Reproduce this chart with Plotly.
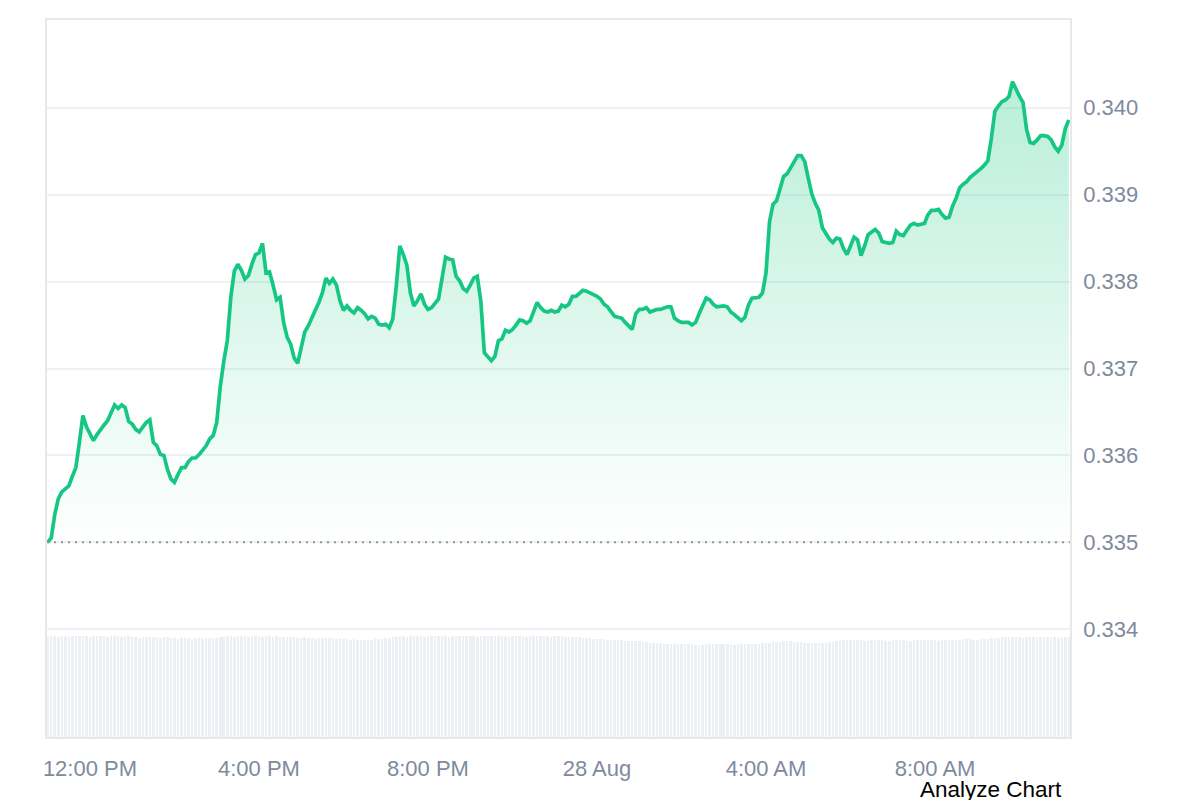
import pandas as pd
import plotly.graph_objects as go

# ---- data (5-minute intervals) ----
start_time = "2024-08-27 11:00"
n_points = 291

prices = [
    0.33500, 0.33505, 0.33532, 0.33550, 0.33558, 0.33561, 0.33565, 0.33576, 0.33586, 0.33615,
    0.33646, 0.33633, 0.33625, 0.33617, 0.33624, 0.33630, 0.33635, 0.33640, 0.33650, 0.33658,
    0.33654, 0.33658, 0.33655, 0.33639, 0.33636, 0.33630, 0.33627, 0.33632, 0.33638, 0.33641,
    0.33615, 0.33611, 0.33601, 0.33600, 0.33584, 0.33573, 0.33569, 0.33578, 0.33586, 0.33586,
    0.33593, 0.33597, 0.33597, 0.33601, 0.33606, 0.33611, 0.33619, 0.33623, 0.33638, 0.33679,
    0.33708, 0.33732, 0.33782, 0.33812, 0.33820, 0.33813, 0.33803, 0.33807, 0.33820, 0.33831,
    0.33833, 0.33844, 0.33810, 0.33811, 0.33796, 0.33779, 0.33782, 0.33753, 0.33736, 0.33728,
    0.33712, 0.33706, 0.33724, 0.33742, 0.33749, 0.33759, 0.33767, 0.33776, 0.33787, 0.33804,
    0.33798, 0.33803, 0.33796, 0.33778, 0.33767, 0.33772, 0.33767, 0.33764, 0.33770, 0.33767,
    0.33763, 0.33757, 0.33760, 0.33758, 0.33751, 0.33750, 0.33751, 0.33747, 0.33757, 0.33795,
    0.33841, 0.33831, 0.33819, 0.33787, 0.33772, 0.33778, 0.33786, 0.33774, 0.33768, 0.33770,
    0.33775, 0.33780, 0.33804, 0.33828, 0.33826, 0.33825, 0.33806, 0.33801, 0.33792, 0.33789,
    0.33796, 0.33804, 0.33806, 0.33778, 0.33718, 0.33714, 0.33709, 0.33714, 0.33732, 0.33734,
    0.33744, 0.33742, 0.33745, 0.33750, 0.33756, 0.33755, 0.33752, 0.33755, 0.33765, 0.33776,
    0.33770, 0.33766, 0.33765, 0.33767, 0.33765, 0.33766, 0.33773, 0.33771, 0.33774, 0.33783,
    0.33783, 0.33786, 0.33790, 0.33789, 0.33787, 0.33786, 0.33783, 0.33780, 0.33774, 0.33771,
    0.33766, 0.33760, 0.33759, 0.33758, 0.33753, 0.33749, 0.33745, 0.33763, 0.33768, 0.33768,
    0.33770, 0.33765, 0.33767, 0.33768, 0.33768, 0.33770, 0.33771, 0.33771, 0.33758, 0.33755,
    0.33753, 0.33753, 0.33753, 0.33750, 0.33753, 0.33763, 0.33773, 0.33781, 0.33779, 0.33774,
    0.33771, 0.33772, 0.33772, 0.33771, 0.33765, 0.33762, 0.33759, 0.33755, 0.33759, 0.33773,
    0.33781, 0.33782, 0.33782, 0.33787, 0.33810, 0.33869, 0.33889, 0.33893, 0.33907, 0.33921,
    0.33924, 0.33931, 0.33938, 0.33945, 0.33945, 0.33938, 0.33919, 0.33901, 0.33890, 0.33882,
    0.33862, 0.33856, 0.33849, 0.33845, 0.33850, 0.33849, 0.33838, 0.33831, 0.33840, 0.33851,
    0.33848, 0.33830, 0.33841, 0.33854, 0.33857, 0.33860, 0.33856, 0.33846, 0.33845, 0.33844,
    0.33845, 0.33858, 0.33854, 0.33853, 0.33859, 0.33865, 0.33867, 0.33865, 0.33866, 0.33867,
    0.33877, 0.33882, 0.33882, 0.33883, 0.33877, 0.33873, 0.33874, 0.33887, 0.33896, 0.33908,
    0.33912, 0.33915, 0.33920, 0.33923, 0.33927, 0.33930, 0.33934, 0.33939, 0.33965, 0.33996,
    0.34002, 0.34007, 0.34009, 0.34013, 0.34030, 0.34021, 0.34013, 0.34006, 0.33975, 0.33960,
    0.33959, 0.33963, 0.33968, 0.33968, 0.33967, 0.33963, 0.33955, 0.33950, 0.33957, 0.33976, 0.33986,
]

volumes = [
    100, 101, 101, 100, 101, 101, 100, 101, 101, 101,
    101, 101, 100, 101, 101, 101, 101, 100, 101, 101,
    101, 100, 101, 101, 100, 100, 99, 100, 100, 100,
    100, 100, 99, 100, 100, 99, 99, 98, 99, 99,
    99, 98, 99, 99, 98, 99, 99, 99, 99, 100,
    100, 101, 101, 100, 101, 101, 101, 100, 101, 101,
    101, 100, 101, 101, 100, 101, 100, 100, 100, 100,
    100, 99, 99, 100, 99, 99, 98, 99, 99, 99,
    99, 99, 98, 99, 98, 98, 97, 98, 97, 97,
    97, 97, 97, 98, 98, 98, 99, 99, 100, 100,
    101, 101, 100, 101, 101, 101, 101, 100, 101, 101,
    101, 101, 101, 101, 100, 101, 101, 101, 101, 101,
    101, 101, 100, 101, 101, 101, 101, 101, 101, 101,
    101, 100, 101, 101, 101, 101, 100, 101, 101, 101,
    101, 101, 101, 100, 101, 101, 101, 100, 100, 100,
    100, 100, 99, 99, 99, 98, 98, 98, 98, 97,
    97, 97, 97, 97, 96, 96, 96, 96, 96, 95,
    95, 94, 94, 94, 94, 93, 93, 93, 93, 93,
    93, 93, 93, 93, 92, 92, 92, 93, 93, 93,
    93, 93, 93, 93, 92, 92, 93, 93, 93, 93,
    93, 93, 93, 94, 94, 94, 95, 95, 95, 96,
    96, 96, 95, 95, 95, 94, 94, 94, 94, 94,
    94, 94, 95, 95, 96, 96, 97, 97, 97, 97,
    97, 97, 96, 96, 97, 97, 97, 97, 96, 96,
    97, 97, 97, 97, 96, 96, 97, 97, 97, 97,
    97, 97, 97, 96, 97, 97, 97, 97, 97, 97,
    98, 98, 98, 97, 97, 98, 98, 98, 99, 99,
    99, 100, 100, 100, 100, 100, 100, 99, 100, 100,
    100, 100, 100, 100, 100, 100, 100, 99, 100, 100, 100,
]

x_tick_values = ["2024-08-27 12:00", "2024-08-27 16:00", "2024-08-27 20:00",
                 "2024-08-28 00:00", "2024-08-28 04:00", "2024-08-28 08:00"]
x_tick_labels = ["12:00 PM", "4:00 PM", "8:00 PM", "28 Aug", "4:00 AM", "8:00 AM"]
y_tick_values = [0.334, 0.335, 0.336, 0.337, 0.338, 0.339, 0.340]
y_tick_labels = ["0.334", "0.335", "0.336", "0.337", "0.338", "0.339", "0.340"]

times = pd.date_range(start_time, periods=n_points, freq="5min")
open_price = prices[0]

GREEN = "#16c784"
GRID = "#eff1f4"
TICK = "#808a9d"
FONT = "Liberation Sans, Arial, sans-serif"

fig = go.Figure()

# volume bars (secondary axis)
fig.add_trace(go.Bar(
    x=times, y=volumes, yaxis="y2",
    marker=dict(color="#eceff3", line=dict(width=0)),
    width=300000 * 0.72, hoverinfo="skip", showlegend=False,
))

# baseline (opening price) for the fill
fig.add_trace(go.Scatter(
    x=times, y=[open_price] * n_points, mode="lines",
    line=dict(width=0, color="rgba(0,0,0,0)"), hoverinfo="skip", showlegend=False,
))

# price line with gradient fill down to the opening price
fig.add_trace(go.Scatter(
    x=times, y=prices, mode="lines",
    line=dict(color=GREEN, width=3.7),
    fill="tonexty",
    fillgradient=dict(
        type="vertical",
        start=open_price, stop=max(prices),
        colorscale=[[0, "rgba(22,199,132,0.0)"], [1, "rgba(22,199,132,0.30)"]],
    ),
    showlegend=False,
))

# dotted line at the opening price
fig.add_shape(type="line", xref="paper", x0=0, x1=1, yref="y", y0=open_price, y1=open_price,
              line=dict(color="#8f96a3", width=2, dash="2px,5px"), layer="above")

# the page body has an 8px default margin, so the figure is sized to fit the window
fig.update_layout(
    width=1192, height=792,
    margin=dict(l=39, r=130, t=10, b=63),
    paper_bgcolor="white", plot_bgcolor="white",
    font=dict(family=FONT, size=22, color=TICK),
    bargap=0,
    xaxis=dict(
        range=["2024-08-27 10:59:00", "2024-08-28 11:11:40"],
        tickvals=x_tick_values, ticktext=x_tick_labels,
        showgrid=False, zeroline=False,
        showline=True, linecolor="#e6e8ec", linewidth=1.5, mirror=True,
        ticks="", ticklabelstandoff=11,
        tickfont=dict(size=22, color=TICK),
    ),
    yaxis=dict(
        range=[0.33276, 0.34101], side="right",
        tickvals=y_tick_values, ticktext=y_tick_labels,
        showgrid=True, gridcolor=GRID, gridwidth=1.5, zeroline=False,
        showline=True, linecolor="#e6e8ec", linewidth=1.5, mirror=True,
        ticks="", ticklabelstandoff=7,
        tickfont=dict(size=22, color=TICK),
    ),
    yaxis2=dict(
        overlaying="y", range=[0, 719], visible=False, showgrid=False,
    ),
    annotations=[dict(
        text="Analyze Chart", xref="paper", yref="paper",
        x=0.9945, y=-0.0735, xanchor="right", yanchor="middle",
        showarrow=False, font=dict(family=FONT, size=22.5, color="#000000"),
    )],
)

fig.write_html("out.html")
